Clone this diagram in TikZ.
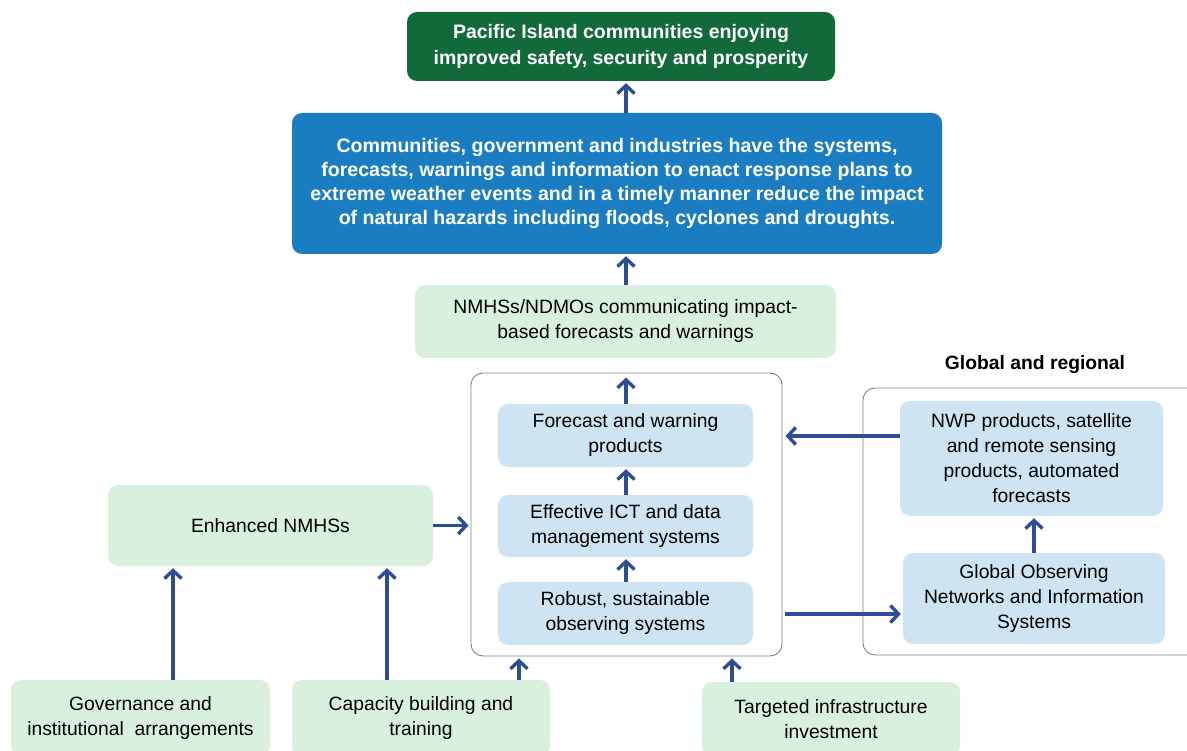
\documentclass[tikz,border=0pt]{standalone}
\usepackage{fontspec}
\setmainfont{Liberation Sans}
\usetikzlibrary{arrows.meta}
\definecolor{dgreen}{RGB}{18,106,58}
\definecolor{mblue}{RGB}{26,125,194}
\definecolor{lgreen}{RGB}{217,240,222}
\definecolor{lblue}{RGB}{207,228,242}
\definecolor{arrowc}{RGB}{46,77,150}
\definecolor{frame}{RGB}{120,130,145}
\begin{document}
\begin{tikzpicture}[x=1pt,y=-1pt,
  base/.style={rounded corners=10pt, align=center, inner sep=0pt, font=\fontsize{19.3}{25}\selectfont},
  topbox/.style={base, fill=dgreen, text=white, font=\bfseries\fontsize{19.5}{25.5}\selectfont},
  bluebox/.style={base, fill=mblue, text=white, font=\bfseries\fontsize{19.6}{24}\selectfont},
  gbox/.style={base, fill=lgreen, text=black},
  bbox/.style={base, fill=lblue, text=black},
  frbox/.style={rounded corners=12pt, draw=frame, line width=0.9pt, inner sep=0pt},
  arr/.style={draw=arrowc, line width=3.4pt, -{Straight Barb[length=8pt,width=17pt]}, shorten >=2pt}
]
\useasboundingbox (0,0) rectangle (1187,751);
\clip (0,0) rectangle (1187,751);

\node[topbox, minimum width=428, minimum height=69] (top) at (621,46.5)
  {Pacific Island communities enjoying\\improved safety, security and prosperity};
\node[bluebox, minimum width=650, minimum height=141] (blue) at (617,183.5)
  {Communities, government and industries have the systems,\\forecasts, warnings and information to enact response plans to\\extreme weather events and in a timely manner reduce the impact\\of natural hazards including floods, cyclones and droughts.};
\node[gbox, minimum width=421, minimum height=73] (nmhs) at (625.5,321.5)
  {NMHSs/NDMOs communicating impact-\\based forecasts and warnings};

\node[frbox, minimum width=311, minimum height=283] (outer) at (626.5,514.5) {};
\node[bbox, minimum width=255, minimum height=63] (fc) at (625.5,435.5)
  {Forecast and warning\\products};
\node[bbox, minimum width=255, minimum height=62] (ict) at (625.5,526)
  {Effective ICT and data\\management systems};
\node[bbox, minimum width=255, minimum height=63] (rob) at (625.5,613.5)
  {Robust, sustainable\\observing systems};

\node[font=\bfseries\fontsize{19.3}{22}\selectfont] (glab) at (1035,365) {Global and regional};
\node[frbox, minimum width=337, minimum height=267] (router) at (1031.5,521.5) {};
\node[bbox, minimum width=263, minimum height=115] (nwp) at (1031.5,458.5)
  {NWP products, satellite\\and remote sensing\\products, automated\\forecasts};
\node[bbox, minimum width=262, minimum height=91] (gon) at (1034,598.5)
  {Global Observing\\Networks and Information\\Systems};

\node[gbox, minimum width=325, minimum height=81] (enh) at (270.5,525.5) {Enhanced NMHSs};
\node[gbox, minimum width=259, minimum height=76] (gov) at (140.5,718)
  {Governance and\\institutional\ \ arrangements};
\node[gbox, minimum width=258, minimum height=76] (cap) at (421,718)
  {Capacity building and\\training};
\node[gbox, minimum width=258, minimum height=74] (tgt) at (831,719)
  {Targeted infrastructure\\investment};

\coordinate (xm) at (626,0);
\coordinate (xa) at (173,0);
\coordinate (xb) at (387,0);
\coordinate (xc) at (519,0);
\coordinate (xd) at (732,0);
\coordinate (xe) at (1034,0);
\coordinate (ya) at (0,436);
\coordinate (yb) at (0,614);

\draw[arr] (blue.north -| xm) -- (top.south -| xm);
\draw[arr] (nmhs.north -| xm) -- (blue.south -| xm);
\draw[arr, shorten >=5pt] (fc.north -| xm) -- (outer.north -| xm);
\draw[arr] (ict.north -| xm) -- (fc.south -| xm);
\draw[arr] (rob.north -| xm) -- (ict.south -| xm);
\draw[arr] (enh.east) -- (enh.east -| outer.west);
\draw[arr] (gov.north -| xa) -- (enh.south -| xa);
\draw[arr] (cap.north -| xb) -- (enh.south -| xb);
\draw[arr] (cap.north -| xc) -- (outer.south -| xc);
\draw[arr] (tgt.north -| xd) -- (outer.south -| xd);
\draw[arr] (nwp.west |- ya) -- ([xshift=1pt]outer.east |- ya);
\draw[arr] ([xshift=3pt]outer.east |- yb) -- (gon.west |- yb);
\draw[arr] (gon.north -| xe) -- (nwp.south -| xe);
\end{tikzpicture}
\end{document}
